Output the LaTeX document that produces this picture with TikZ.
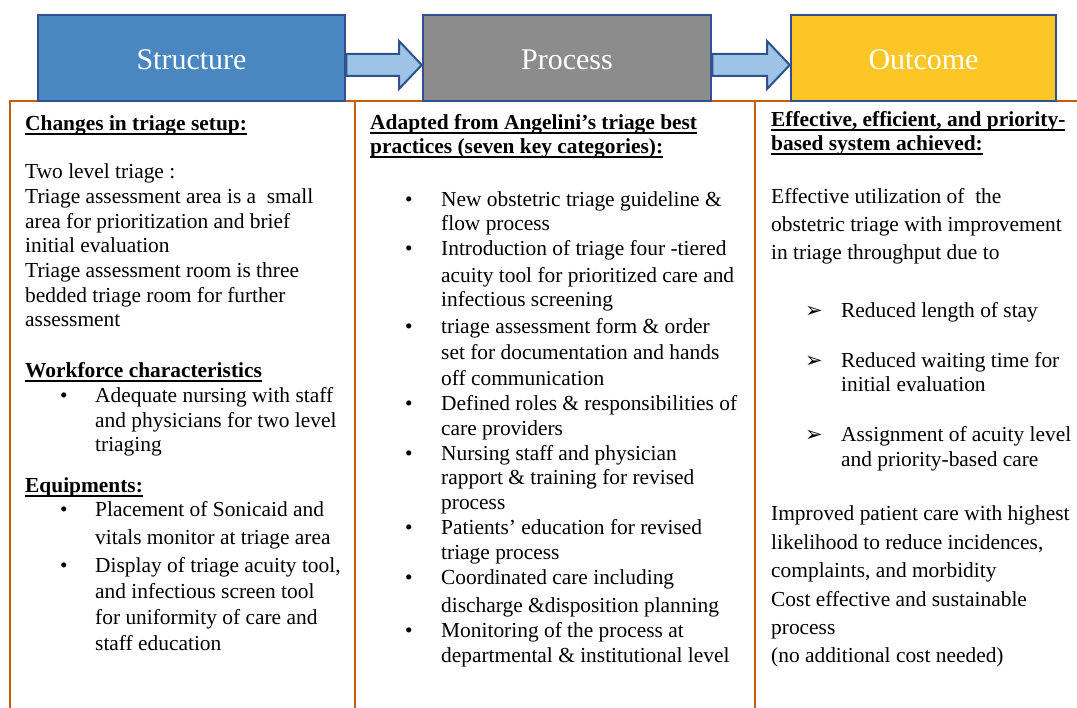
\documentclass[tikz,border=0pt]{standalone}
\usepackage{fontspec}
\setmainfont{Liberation Serif}
\newfontfamily\symfont{DejaVu Sans}
\usepackage{tikz}
\usepackage{xcolor}
\usetikzlibrary{calc}

\definecolor{structblue}{RGB}{74,134,192}
\definecolor{procgray}{RGB}{140,140,140}
\definecolor{outgold}{RGB}{251,198,38}
\definecolor{edgeblue}{RGB}{47,82,143}
\definecolor{arrowblue}{RGB}{157,195,230}
\definecolor{frameorange}{RGB}{197,90,17}

% bold heading with a heavy underline
\newcommand{\hd}[1]{\setbox0\hbox{\textbf{#1}}\rlap{\rule[-4pt]{\wd0}{1.8pt}}\box0}

\begin{document}
\begin{tikzpicture}[x=1pt, y=-1pt,
  header/.style={draw=edgeblue, line width=2.5pt, minimum height=86pt, inner sep=0pt,
    text height=24pt, text depth=0pt, text=white, font=\fontsize{30}{36}\selectfont},
  flowarrow/.style={draw=edgeblue, line width=2pt, fill=arrowblue, line join=miter},
  frame/.style={draw=frameorange, line width=2pt},
  txt/.style={anchor=base west, inner sep=0pt, font=\fontsize{21.4}{25}\selectfont},
  pointer/.style={anchor=base west, inner sep=0pt, font=\symfont\fontsize{21}{25}\selectfont}]
\useasboundingbox (0,0) rectangle (1077,708);

% column frames
\draw[frame] (10,708) -- (10,101) -- (1077,101);
\draw[frame] (355,101) -- (355,708);
\draw[frame] (755,101) -- (755,708);

% headers
\node[header, fill=structblue, minimum width=307pt] (struct) at (191.5,58) {Structure};
\node[header, fill=procgray, minimum width=288pt] (proc) at (567,58) {Process};
\node[header, fill=outgold, minimum width=265pt] (outc) at (923.5,58) {Outcome};

% arrows between headers
\draw[flowarrow] (struct.east |- 0,54) -- (399,54) -- (399,41) -- (proc.west |- 0,65)
  -- (399,89) -- (399,76) -- (struct.east |- 0,76) -- cycle;
\draw[flowarrow] (proc.east |- 0,54) -- (767,54) -- (767,41) -- (outc.west |- 0,65)
  -- (767,89) -- (767,76) -- (proc.east |- 0,76) -- cycle;

% structure column
\foreach \y/\t [count=\i] in {
  131/{\hd{Changes in triage setup:}},
  179/{Two level triage :},
  204/{Triage assessment area is a \ small},
  229/{area for prioritization and brief},
  253/{initial evaluation},
  278/{Triage assessment room is three},
  303/{bedded triage room for further},
  327/{assessment},
  378/{\hd{Workforce characteristics}},
  493/{\hd{Equipments:}}}
  \node[txt] (s\i) at (25,\y) {\t};
\foreach \y/\t [count=\i] in {
  403/{Adequate nursing with staff},
  428/{and physicians for two level},
  452/{triaging},
  517/{Placement of Sonicaid and},
  544/{vitals monitor at triage area},
  572/{Display of triage acuity tool,},
  598/{and infectious screen tool},
  624/{for uniformity of care and},
  650/{staff education}}
  \node[txt] (sl\i) at (95,\y) {\t};
\foreach \y [count=\i] in {403,517,572}
  \node[txt] (sb\i) at (60,\y) {•};

% process column
\foreach \y/\t [count=\i] in {
  130/{\hd{Adapted from Angelini’s triage best}},
  154/{\hd{practices (seven key categories):}}}
  \node[txt] (p\i) at (370,\y) {\t};
\foreach \y/\t [count=\i] in {
  207/{New obstetric triage guideline \&},
  231/{flow process},
  256/{Introduction of triage four -tiered},
  283/{acuity tool for prioritized care and},
  307/{infectious screening},
  334/{triage assessment form \& order},
  360/{set for documentation and hands},
  386/{off communication},
  411/{Defined roles \& responsibilities of},
  436/{care providers},
  461/{Nursing staff and physician},
  485/{rapport \& training for revised},
  510/{process},
  535/{Patients’ education for revised},
  559/{triage process},
  584/{Coordinated care including},
  612/{discharge \&disposition planning},
  637/{Monitoring of the process at},
  662/{departmental \& institutional level}}
  \node[txt] (pl\i) at (441,\y) {\t};
\foreach \y [count=\i] in {207,256,334,411,461,535,584,637}
  \node[txt] (pb\i) at (405,\y) {•};

% outcome column
\foreach \y/\t [count=\i] in {
  127/{\hd{Effective, efficient, and priority-}},
  151/{\hd{based system achieved:}},
  204/{Effective utilization of \ the},
  232/{obstetric triage with improvement},
  260/{in triage throughput due to},
  521/{Improved patient care with highest},
  549/{likelihood to reduce incidences,},
  577/{complaints, and morbidity},
  606/{Cost effective and sustainable},
  634/{process},
  662/{(no additional cost needed)}}
  \node[txt] (o\i) at (771,\y) {\t};
\foreach \y/\t [count=\i] in {
  318/{Reduced length of stay},
  368/{Reduced waiting time for},
  392/{initial evaluation},
  442/{Assignment of acuity level},
  467/{and priority-based care}}
  \node[txt] (ol\i) at (841,\y) {\t};
\foreach \y [count=\i] in {318,368,442}
  \node[pointer] (ob\i) at (805,\y) {➢};
\end{tikzpicture}
\end{document}
